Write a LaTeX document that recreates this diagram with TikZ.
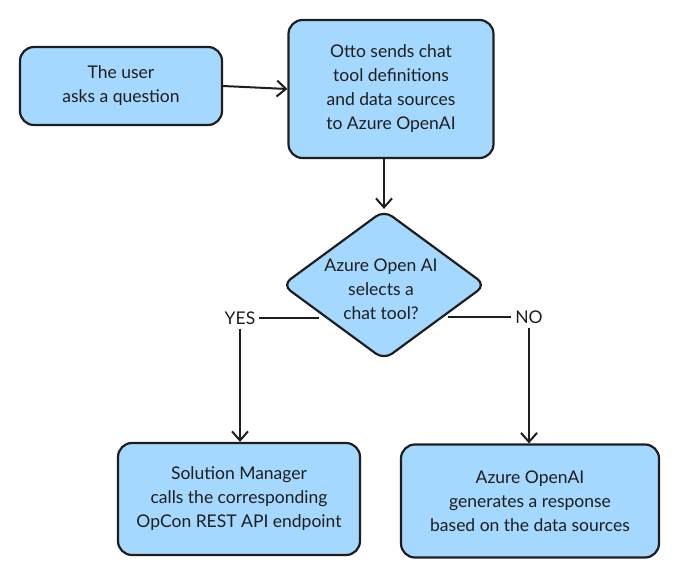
\documentclass[tikz,border=0pt]{standalone}
\usepackage{fontspec}
\setmainfont{Lato}
\usetikzlibrary{shapes.geometric,arrows.meta}
\definecolor{boxfill}{HTML}{A5D8FF}
\definecolor{ink}{HTML}{1E1E1E}
\tikzset{
  txt/.style={font=\fontsize{17.5}{24}\selectfont, text=ink},
  box/.style={txt, draw=ink, fill=boxfill, line width=2.2pt, rounded corners=14pt,
    align=center, inner sep=0pt},
  dia/.style={draw=ink, fill=boxfill, line width=2.2pt, diamond, rounded corners=10pt,
    inner sep=0pt, minimum width=204pt, minimum height=150pt},
  lbl/.style={txt, inner sep=4pt},
  conn/.style={draw=ink, line width=2pt},
  arr/.style={conn, -{Straight Barb[length=9pt,width=16pt,line width=2pt]}},
}
\begin{document}
\begin{tikzpicture}[x=1pt,y=-1pt]
\useasboundingbox (0,0) rectangle (694,578);
\node[box, minimum width=202pt, minimum height=78pt] (user) at (121,86) {The user\\asks a question};
\node[box, minimum width=205pt, minimum height=138pt] (otto) at (391,89) {Otto sends chat\\tool definitions\\and data sources\\to Azure OpenAI};
\node[dia] (sel) at (384,285) {};
\node[txt, align=center, inner sep=0pt] (seltext) at (381,289) {Azure Open AI\\selects a\\chat tool?};
\node[lbl] (yes) at (240,318) {YES};
\node[lbl] (no) at (529,317) {NO};
\node[box, minimum width=242pt, minimum height=112pt] (sm) at (239,499) {Solution Manager\\calls the corresponding\\OpCon REST API endpoint};
\node[box, minimum width=258pt, minimum height=113pt] (resp) at (530,501) {Azure OpenAI\\generates a response\\based on the data sources};

\draw[arr] (user.east) -- (otto.west);
\draw[arr] (otto.south -| sel.north) -- (sel.north);
\draw[conn] ([xshift=-13pt]sel.south west |- yes) -- (yes.east);
\draw[arr] (yes.south) -- (sm.north -| yes);
\draw[conn] ([xshift=12pt]sel.south east |- no) -- (no.west);
\draw[arr] (no.south) -- (resp.north -| no);
\end{tikzpicture}
\end{document}
